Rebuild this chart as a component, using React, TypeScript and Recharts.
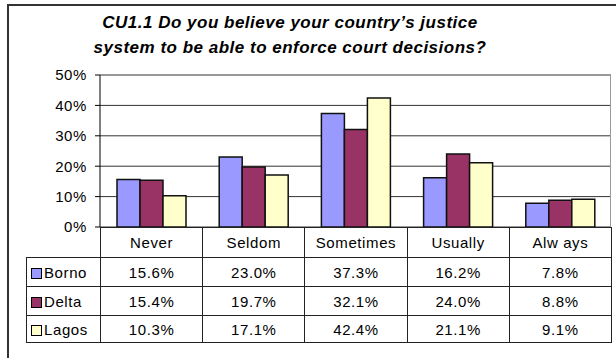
import { BarChart, Bar, XAxis, YAxis, CartesianGrid } from "recharts";

const categories = ["Never", "Seldom", "Sometimes", "Usually", "Always"];
const categoryLabels = ["Never", "Seldom", "Sometimes", "Usually", "Alw ays"];
const borno = [15.6, 23.0, 37.3, 16.2, 7.8];
const delta = [15.4, 19.7, 32.1, 24.0, 8.8];
const lagos = [10.3, 17.1, 42.4, 21.1, 9.1];
const yTicks = [0, 10, 20, 30, 40, 50];

const SERIES = [
  { name: "Borno", values: borno, color: "#9999FF" },
  { name: "Delta", values: delta, color: "#993366" },
  { name: "Lagos", values: lagos, color: "#FFFFCC" },
];

const rows = categories.map((cat, i) => {
  const row: Record<string, string | number> = { category: cat };
  SERIES.forEach((s) => { row[s.name] = s.values[i]; });
  return row;
});

const FONT = '"Liberation Sans", Arial, sans-serif';
const LINE = "1px solid #222";
const COL_W = 102.2;

export default function App() {
  return (
    <div style={{ position: "absolute", left: 0, top: 0, width: 616, height: 358, background: "#fff", overflow: "hidden", fontFamily: FONT }}>
      {/* outer chart frame, runs off the right and bottom */}
      <div style={{ position: "absolute", left: 7, top: 4, width: 660, height: 400, border: "2px solid #333" }} />

      {/* title */}
      <div style={{ position: "absolute", left: 80, top: 10, width: 420, textAlign: "center", fontWeight: "bold", fontStyle: "italic", fontSize: 17, lineHeight: "25px", letterSpacing: 0.5, color: "#000" }}>
        CU1.1 Do you believe your country’s justice<br />system to be able to enforce court decisions?
      </div>

      <BarChart
        width={616}
        height={358}
        data={rows}
        margin={{ top: 75, right: 5, bottom: 131, left: 0 }}
        barSize={23}
        barGap={0}
        style={{ position: "absolute", left: 0, top: 0 }}
      >
        <CartesianGrid vertical={false} stroke="#333" />
        <XAxis dataKey="category" hide />
        <YAxis
          width={100}
          domain={[0, 50]}
          ticks={yTicks}
          tickFormatter={(v) => `${v}%`}
          tick={{ fontSize: 15, fill: "#000", fontFamily: FONT, letterSpacing: 0.6 }}
          tickSize={5}
          tickMargin={8}
          axisLine={{ stroke: "#000" }}
          tickLine={{ stroke: "#000" }}
        />
        {SERIES.map((s) => (
          <Bar key={s.name} dataKey={s.name} fill={s.color} stroke="#111" strokeWidth={1.5} isAnimationActive={false} />
        ))}
      </BarChart>

      {/* plot area frame (top/right) */}
      <div style={{ position: "absolute", left: 100, top: 74, width: 510, height: 153, borderTop: "1px solid #999", borderRight: "1px solid #999" }} />

      {/* data table */}
      <table style={{ position: "absolute", left: 26, top: 227, borderCollapse: "collapse", tableLayout: "fixed", fontSize: 15, letterSpacing: 0.6, color: "#000", fontFamily: FONT }}>
        <colgroup>
          <col style={{ width: 74 }} />
          {categories.map((c) => <col key={c} style={{ width: COL_W }} />)}
        </colgroup>
        <tbody>
          <tr style={{ height: 30 }}>
            <td style={{ padding: 0 }} />
            {categoryLabels.map((c) => (
              <td key={c} style={{ border: LINE, textAlign: "center", padding: 0 }}>{c}</td>
            ))}
          </tr>
          {SERIES.map((s, r) => (
            <tr key={s.name} style={{ height: r === 2 ? 27 : 29 }}>
              <td style={{ border: LINE, padding: "0 0 0 4px", whiteSpace: "nowrap" }}>
                <span style={{ display: "inline-block", width: 9, height: 9, background: s.color, border: "1px solid #000", marginRight: 2, verticalAlign: "-1px" }} />
                {s.name}
              </td>
              {s.values.map((v, i) => (
                <td key={i} style={{ border: LINE, textAlign: "center", padding: 0 }}>{v.toFixed(1)}%</td>
              ))}
            </tr>
          ))}
        </tbody>
      </table>
    </div>
  );
}
